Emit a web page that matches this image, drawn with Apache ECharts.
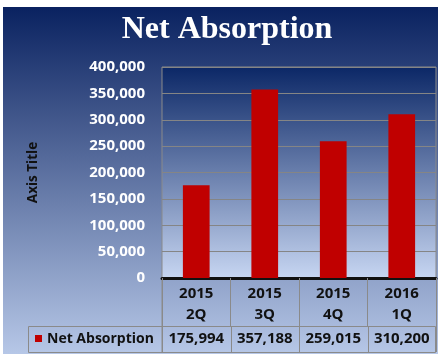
<!DOCTYPE html>
<html>
<head>
<meta charset="utf-8">
<script src="https://cdn.jsdelivr.net/npm/echarts@6/dist/echarts.min.js"></script>
<style>
html,body{margin:0;padding:0;background:#fff;}
#c{width:440px;height:354px;}
</style>
</head>
<body>
<div id="c"></div>
<script>
const chartTitle = 'Net Absorption';
const seriesName = 'Net Absorption';
const yearLabels = ['2015', '2015', '2015', '2016'];
const quarterLabels = ['2Q', '3Q', '4Q', '1Q'];
const values = [175994, 357188, 259015, 310200];
const yMin = 0, yMax = 400000, yStep = 50000;
const axisTitle = 'Axis Title';

const categories = yearLabels.map((y, i) => y + '\n' + quarterLabels[i]);
const fmt = v => v.toLocaleString('en-US');
const FONT = 'Open Sans';

const chart = echarts.init(document.getElementById('c'));
chart.setOption({
  animation: false,
  grid: {
    left: 162, right: 4, top: 67, bottom: 76,
    show: true, borderColor: '#8a8a8a', borderWidth: 1,
    backgroundColor: new echarts.graphic.LinearGradient(0, 0, 0, 1, [
      {offset: 0, color: '#0b2766'}, {offset: 1, color: '#c7d6f2'}])
  },
  xAxis: {
    type: 'category', data: categories,
    axisLine: {lineStyle: {color: '#111', width: 3}},
    axisTick: {show: true, length: 48, lineStyle: {color: '#8a8a8a', width: 1}},
    axisLabel: {color: '#111', fontFamily: FONT, fontWeight: 'bold', fontSize: 15, lineHeight: 21, margin: 5}
  },
  yAxis: {
    type: 'value', min: yMin, max: yMax, interval: yStep,
    name: axisTitle, nameLocation: 'middle', nameGap: 122,
    nameTextStyle: {color: '#111', fontFamily: FONT, fontWeight: 'bold', fontSize: 13.5},
    axisLine: {show: false}, axisTick: {show: false},
    splitLine: {lineStyle: {color: '#858585', width: 1}},
    axisLabel: {color: '#fff', fontFamily: FONT, fontWeight: 'bold', fontSize: 15, margin: 17,
      formatter: v => fmt(v)}
  },
  series: [{
    type: 'bar', name: seriesName, data: values, barWidth: '39%',
    itemStyle: {color: '#c00000'}
  }]
});

function drawExtras() {
  const n = categories.length;
  const x0 = chart.convertToPixel({xAxisIndex: 0}, 0);
  const x1 = chart.convertToPixel({xAxisIndex: 0}, 1);
  const cw = x1 - x0;
  const left = x0 - cw / 2;
  const right = left + cw * n;
  const base = chart.convertToPixel({yAxisIndex: 0}, yMin);
  const rowTop = base + 48, rowBot = rowTop + 26, tableLeft = 28;
  const g = [];
  g.push({type: 'rect', z: -10, shape: {x: 3, y: 7, width: 435, height: 347},
    style: {fill: new echarts.graphic.LinearGradient(0, 0, 0, 1, [
      {offset: 0, color: '#0a2260'}, {offset: 1, color: '#b6c7e7'}])}});
  g.push({type: 'text', x: 227, y: 30, style: {text: chartTitle, fill: '#fff',
    font: 'bold 32px "Liberation Serif"', align: 'center', verticalAlign: 'middle'}});
  g.push({type: 'line', shape: {x1: left, y1: base, x2: left, y2: rowBot}, style: {stroke: '#8a8a8a', lineWidth: 1}});
  g.push({type: 'rect', shape: {x: tableLeft + 0.5, y: rowTop + 0.5, width: right - tableLeft - 1, height: rowBot - rowTop},
    style: {fill: 'none', stroke: '#8a8a8a', lineWidth: 1}});
  for (let i = 0; i <= n; i++) {
    const x = Math.round(left + cw * i) + 0.5;
    g.push({type: 'line', shape: {x1: x, y1: rowTop, x2: x, y2: rowBot}, style: {stroke: '#8a8a8a', lineWidth: 1}});
  }
  const my = (rowTop + rowBot) / 2;
  g.push({type: 'rect', shape: {x: 35, y: my - 4, width: 7, height: 7}, style: {fill: '#c00000'}});
  g.push({type: 'text', x: 47, y: my, style: {text: seriesName, fill: '#111',
    font: 'bold 14px "' + FONT + '"', verticalAlign: 'middle'}});
  values.forEach((v, i) => {
    g.push({type: 'text', x: left + cw * (i + 0.5), y: my, style: {text: fmt(v), fill: '#111',
      font: 'bold 15px "' + FONT + '"', align: 'center', verticalAlign: 'middle'}});
  });
  chart.setOption({graphic: g});
}
drawExtras();
</script>
</body>
</html>
